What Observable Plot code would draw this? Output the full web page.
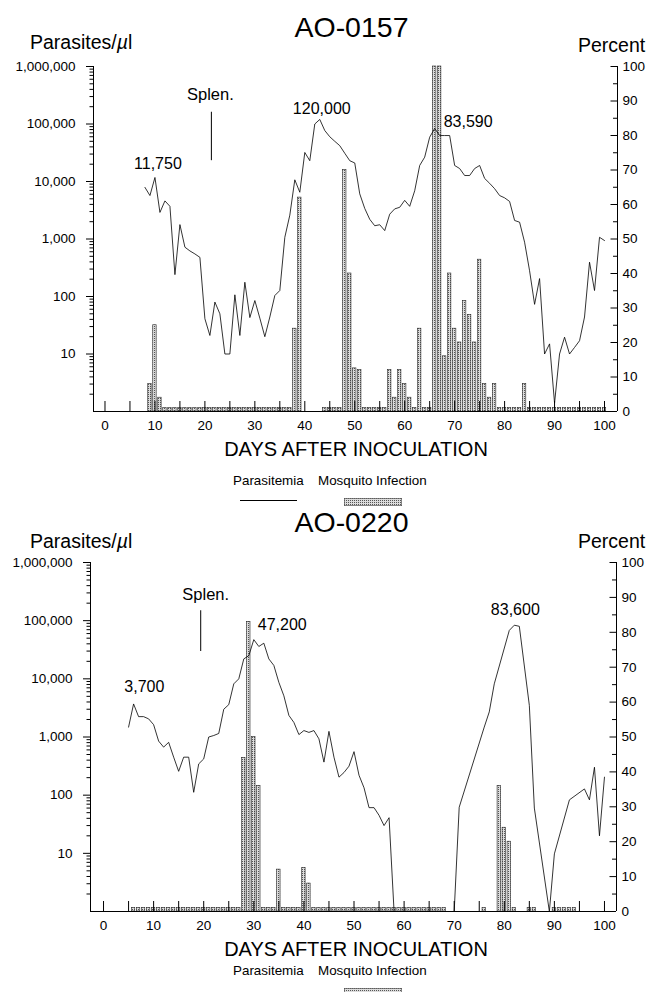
<!DOCTYPE html>
<html><head><meta charset="utf-8">
<script src="https://cdn.jsdelivr.net/npm/d3@7"></script>
<script src="https://cdn.jsdelivr.net/npm/@observablehq/plot@0.6"></script>
<style>
body{margin:0;background:#fff;}
#page{position:relative;width:653px;height:992px;overflow:hidden;font-family:"Liberation Sans",Arial,Helvetica,sans-serif;color:#000;background:#fff;}
.t{position:absolute;white-space:nowrap;line-height:1;}
.layer{position:absolute;left:0;top:0;}
</style></head><body>
<svg width="0" height="0" style="position:absolute"><defs>
<pattern id="stip" width="2" height="2" patternUnits="userSpaceOnUse"><rect width="2" height="2" fill="#dcdcdc"/><rect width="1" height="1" fill="#555"/></pattern>
</defs></svg>
<div id="page"></div>
<script>
// ---------- DATA ----------
// Panel 1: AO-0157
const days1 = [8,9,10,11,12,13,14,15,16,17,18,19,20,21,22,23,24,25,26,27,28,29,30,31,32,33,34,35,36,37,38,39,40,41,42,43,44,45,46,47,48,49,50,51,52,53,54,55,56,57,58,59,60,61,62,63,64,65,66,67,68,69,70,71,72,73,74,75,76,77,78,79,80,81,82,83,84,85,86,87,88,89,90,91,92,93,94,95,96,97,98,99,100];
const para1 = [7900,5700,11750,2900,4600,3700,240,1780,720,620,
  550,480,41,21,80,50,10,10,107,21,
  177,43,85,42,20,44,104,127,1070,2600,
  10700,6500,32000,23000,100000,120000,77000,60000,50000,42000,
  31000,23000,21000,6100,3400,2200,1700,1770,1400,2700,
  3340,3560,4700,3700,6900,19000,26500,59000,83590,63000,
  63000,63000,19000,16800,12700,12700,16800,19000,11300,9300,
  7500,5700,5200,4500,2100,1960,880,280,73,205,
  10,15,1.4,10,19.6,10,13,17,44,395,
  127,1070,940];
const barDays1 = [9,10,11,12,13,14,15,16,17,18,19,20,21,22,23,24,25,26,27,28,29,30,31,32,33,34,35,36,37,38,39,
  44,45,46,47,48,49,50,51,52,53,54,55,56,57,58,59,60,61,62,63,64,65,66,67,68,69,70,71,72,73,74,75,76,77,78,79,80,81,82,83,84,85,86,87,88,89,90,91,92,93,94,95,96,97,98,99,100];
const pct1 = [8,25,4,1,1,1,1,1,1,1,1,1,1,1,1,1,1,1,1,1,1,1,1,1,1,1,1,1,1,24,62,
  1,1,1,1,70,40,12.5,12,1,1,1,1,1,12,4,12,8,4,1,24,1,1,100,100,16,40,24,20,32,28,20,44,8,4,8,1,1,1,1,1,8,1,1,1,1,1,1,1,1,1,1,1,1,1,1,1,1];
const peakDay1 = [10,43,66];
const peakVal1 = [11750,120000,83590];
const peakText1 = ["11,750","120,000","83,590"];
const splenDay1 = 21.3;

// Panel 2: AO-0220
const days2 = [5,6,7,8,9,10,11,12,13,14,15,16,17,18,19,20,21,22,23,24,25,26,27,28,29,30,31,32,33,34,35,36,37,38,39,40,41,42,43,44,45,46,47,48,49,50,51,52,53,54,55,56,57,58,
  70,71,76,77,78,81,82,83,85,86,89,90,93,96,97,98,99,100];
const para2 = [1480,3700,2240,2240,2050,1630,850,670,810,450,
  257,450,450,112,345,420,1000,1060,1150,3000,
  3600,8200,10000,22000,25000,47200,36000,41000,22000,17000,
  8700,5100,2350,1780,1100,1290,1200,1290,930,370,
  1250,450,204,245,315,560,220,134,61,61,
  45,30,41,1,
  1,62,1480,2700,8200,68000,83600,80000,3500,60,1,9.8,83,128,83,302,20,204];
const barDays2 = [6,7,8,9,10,11,12,13,14,15,16,17,18,19,20,21,22,23,24,25,26,27,28,29,30,31,32,33,34,35,36,37,38,39,40,41,42,43,44,45,46,47,48,49,50,51,52,53,54,55,56,57,58,59,60,61,62,63,64,65,66,67,68,
  76,79,80,81,82,85,86,90,91,92,93,94];
const pct2 = [1,1,1,1,1,1,1,1,1,1,1,1,1,1,1,1,1,1,1,1,1,1,44,83,50,36,1,1,1,12,1,1,1,1,12.5,8,
  1,1,1,1,1,1,1,1,1,1,1,1,1,1,1,1,1,1,1,1,1,1,1,1,1,1,1,
  1,36,24,20,1,1,1,1,1,1,1,1];
const peakDay2 = [6,30,82];
const peakVal2 = [3700,47200,83600];
const peakText2 = ["3,700","47,200","83,600"];
const splenDay2 = 19.4;

// Axis tick labels
const xTickLabels = [0,10,20,30,40,50,60,70,80,90,100];
const xTickMarks = [0,5,10,15,20,25,30,35,40,45,50,55,60,65,70,75,80,85,90,95,100];
const yTickLabels = [10,100,1000,10000,100000,1000000];
const pctTickLabels = [0,10,20,30,40,50,60,70,80,90,100];
const pctMinorTicks = [5,15,25,35,45,55,65,75,85,95];

// ---------- DRAWING ----------
const W = 653;
const FONT = '"Liberation Sans", Arial, Helvetica, sans-serif';
const page = document.getElementById("page");
const yMinor = [];
[1,10,100,1000,10000,100000].forEach(d => { for (let k = 2; k <= 9; k++) yMinor.push(d*k); });

function label(html, x, base, size, anchor) {
  const d = document.createElement("div");
  d.className = "t";
  d.style.fontSize = size + "px";
  d.style.top = (base - 0.8465*size) + "px";
  if (anchor === "middle") { d.style.left = (x-300)+"px"; d.style.width = "600px"; d.style.textAlign = "center"; }
  else d.style.left = x + "px";
  d.innerHTML = html;
  page.appendChild(d);
  return d;
}
function box(x, y, w, h, css) {
  const d = document.createElement("div");
  d.style.cssText = `position:absolute;left:${x}px;top:${y}px;width:${w}px;height:${h}px;${css}`;
  page.appendChild(d);
  return d;
}

const panels = [
  {title:"AO-0157", top:0, h:440, mt:66, mb:29, ml:93, mr:36, xdom:[-2.3,102.6],
   days:days1, vals:para1, bd:barDays1, bp:pct1, pd:peakDay1, pv:peakVal1, pt:peakText1,
   peakStyle:[{a:"middle",dx:3,dy:-13.5},{a:"middle",dx:2,dy:-10.4},{a:"start",dx:9,dy:-6.4}],
   splen:splenDay1, splenY:[23000,160000], splenDx:-1, splenDy:-17.7,
   titleBase:37, headBase:50, pctBase:52.7, xlabBase:456, legBase:485, legLine:true},
  {title:"AO-0220", top:497, h:443, mt:65, mb:29, ml:90, mr:37, xdom:[-2.6,102.4],
   days:days2, vals:para2, bd:barDays2, bp:pct2, pd:peakDay2, pv:peakVal2, pt:peakText2,
   peakStyle:[{a:"start",dx:-9.3,dy:-16.6},{a:"start",dx:4,dy:-15},{a:"middle",dx:1,dy:-15}],
   splen:splenDay2, splenY:[29500,148000], splenDx:5, splenDy:-16,
   titleBase:531.7, headBase:548.3, pctBase:549, xlabBase:956, legBase:975, legLine:false}
];

for (const p of panels) {
  const frameH = p.h - p.mt - p.mb;
  const frameW = W - p.ml - p.mr;
  const lineData = p.days.map((d,i) => ({day:d, v:p.vals[i]}));
  const barData = p.bd.map((d,i) => ({day:d, pct:p.bp[i]}));
  const style = {background:"transparent", fontFamily:FONT, fontSize:"13.5px", color:"#000", overflow:"visible"};
  const common = {width:W, height:p.h, marginTop:p.mt, marginBottom:p.mb, marginLeft:p.ml, marginRight:p.mr};

  const B = Plot.plot({
    ...common,
    x:{domain:p.xdom, axis:null},
    y:{domain:[0,100], axis:null},
    style,
    marks:[
      Plot.rect(barData, {x1:d=>d.day-0.34, x2:d=>d.day+0.34, y1:0, y2:"pct", fill:"url(#stip)", stroke:"#222", strokeWidth:0.6}),
      Plot.ruleX([p.xdom[1]], {y1:0, y2:100, stroke:"#000", strokeWidth:1}),
      Plot.tickY(pctTickLabels, {y:d=>d, insetLeft:frameW-6.5, stroke:"#000"}),
      Plot.tickY(pctMinorTicks, {y:d=>d, insetLeft:frameW-4, stroke:"#000"}),
      Plot.axisY(pctTickLabels, {anchor:"right", tickSize:0, tickPadding:5, label:null})
    ]
  });

  const peakMarks = p.pd.map((d,i) => Plot.text([i], {
    x:j=>p.pd[j], y:j=>p.pv[j], text:j=>p.pt[j],
    textAnchor:p.peakStyle[i].a, lineAnchor:"middle", dx:p.peakStyle[i].dx, dy:p.peakStyle[i].dy, fontSize:16, fill:"#000"
  }));

  const A = Plot.plot({
    ...common,
    x:{domain:p.xdom, axis:null},
    y:{type:"log", domain:[1,1e6], axis:null},
    style,
    marks:[
      Plot.ruleY([1], {stroke:"#000", strokeWidth:1}),
      Plot.ruleX([p.xdom[0]], {y1:1, y2:1e6, stroke:"#000", strokeWidth:1}),
      Plot.tickX(xTickMarks, {x:d=>d, insetTop:frameH-10, stroke:"#000"}),
      Plot.axisY(yTickLabels, {anchor:"left", tickSize:7, tickPadding:11, tickFormat:d3.format(","), label:null}),
      Plot.axisY(yMinor, {anchor:"left", tickSize:3.5, tickFormat:()=>"", label:null}),
      Plot.axisX(xTickLabels, {anchor:"bottom", tickSize:0, tickPadding:9, label:null}),
      Plot.lineY(lineData, {x:"day", y:"v", stroke:"#000", strokeWidth:0.8}),
      Plot.ruleX([p.splen], {y1:p.splenY[0], y2:p.splenY[1], stroke:"#000", strokeWidth:1}),
      Plot.text([p.splen], {x:d=>d, y:p.splenY[1], text:()=>"Splen.", fontSize:16.5, lineAnchor:"middle", dx:p.splenDx, dy:p.splenDy, fill:"#000"}),
      ...peakMarks
    ]
  });

  const wrap = document.createElement("div");
  wrap.style.cssText = `position:absolute;left:0;top:${p.top}px;width:${W}px;height:${p.h}px;`;
  B.classList.add("layer"); A.classList.add("layer");
  B.style.position = "absolute"; A.style.position = "absolute";
  wrap.appendChild(B); wrap.appendChild(A);
  page.appendChild(wrap);

  // titles and headers
  label(p.title, 351.5, p.titleBase, 28.5, "middle");
  label("Parasites/<i>µ</i>l", 30, p.headBase, 19.5);
  label("Percent", 578, p.pctBase, 19.5);
  label("DAYS AFTER INOCULATION", 356, p.xlabBase, 20, "middle");
  // legend
  label("Parasitemia", 233, p.legBase, 13.4);
  label("Mosquito Infection", 318, p.legBase, 13.4);
  if (p.legLine) box(240, p.legBase + 15.2, 57, 1, "background:#000;");
  const sw = document.createElementNS("http://www.w3.org/2000/svg","svg");
  sw.setAttribute("width", 58); sw.setAttribute("height", 8);
  sw.style.cssText = `position:absolute;left:344px;top:${p.legBase+13}px;`;
  sw.innerHTML = '<rect x="0.3" y="0.3" width="57.4" height="7.4" fill="url(#stip)" stroke="#444" stroke-width="0.6"/>';
  page.appendChild(sw);
}
</script>
</body></html>
